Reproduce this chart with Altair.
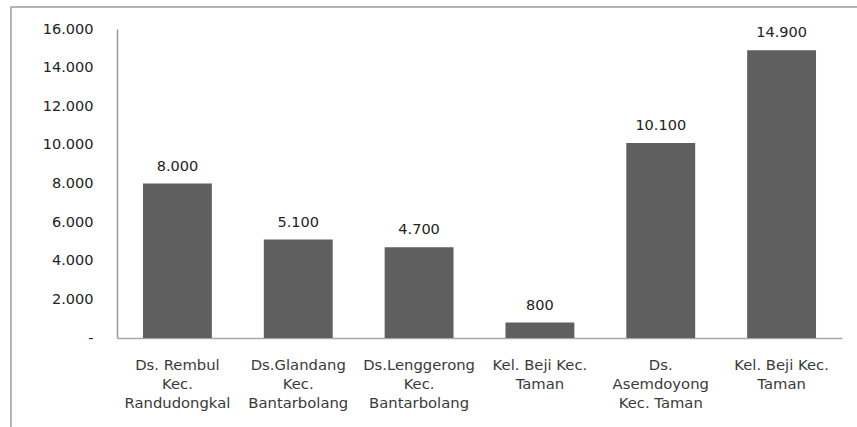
import altair as alt
import pandas as pd

# Village / sub-district names, one list entry per label line
label_lines = [
    ["Ds. Rembul", "Kec.", "Randudongkal"],
    ["Ds.Glandang", "Kec.", "Bantarbolang"],
    ["Ds.Lenggerong", "Kec.", "Bantarbolang"],
    ["Kel. Beji Kec.", "Taman"],
    ["Ds.", "Asemdoyong", "Kec. Taman"],
    ["Kel. Beji Kec.", "Taman "],
]
values = [8000, 5100, 4700, 800, 10100, 14900]
y_ticks = [0, 2000, 4000, 6000, 8000, 10000, 12000, 14000, 16000]

categories = ["\n".join(lines) for lines in label_lines]
df = pd.DataFrame({"lokasi": categories, "nilai": values})
df["teks"] = [f"{v:,}".replace(",", ".") for v in values]

FONT = "DejaVu Sans"
W, H = 725, 309

x_enc = alt.X(
    "lokasi:N",
    sort=categories,
    scale=alt.Scale(paddingInner=0.43, paddingOuter=0.215),
    axis=alt.Axis(
        title=None,
        labelAngle=0,
        labelExpr="split(datum.label, '\\n')",
        labelFont=FONT,
        labelFontSize=14.8,
        labelColor="#3a3a3a",
        labelLineHeight=19,
        labelPadding=19,
        labelBaseline="top",
        labelOverlap=False,
        ticks=False,
        tickSize=0,
        domainColor="#a8a8a8",
        domainWidth=1.5,
        labelLimit=200,
    ),
)

y_enc = alt.Y(
    "nilai:Q",
    scale=alt.Scale(domain=[0, 16000], nice=False),
    axis=alt.Axis(
        title=None,
        values=y_ticks,
        grid=False,
        ticks=False,
        tickSize=0,
        labelPadding=24,
        labelOverlap=False,
        labelFont=FONT,
        labelFontSize=14.5,
        labelColor="#222222",
        labelExpr="datum.value == 0 ? '-' : replace(format(datum.value, ','), ',', '.')",
        domainColor="#9a9a9a",
        domainWidth=1.5,
    ),
)

bars = alt.Chart(df).mark_bar(color="#5f5f5f").encode(x=x_enc, y=y_enc)

bar_labels = alt.Chart(df).mark_text(
    font=FONT, fontSize=14.5, color="#222222", baseline="middle", dy=-17
).encode(x=x_enc, y=y_enc, text="teks:N")

# Outer chart-area border (left and top edges visible)
frame = alt.Chart(pd.DataFrame({"k": [0]})).mark_rect(
    fill=None, stroke="#9c9c9c", strokeWidth=1.5, clip=False
).encode(
    x=alt.value(-106),
    x2=alt.value(W + 80),
    y=alt.value(-22),
    y2=alt.value(H + 120),
)

chart = (
    alt.layer(frame, bars, bar_labels)
    .properties(
        width=W,
        height=H,
        autosize=alt.AutoSizeParams(type="none"),
        padding={"left": 117, "top": 29, "right": 15, "bottom": 89},
        background="white",
    )
    .configure_view(stroke=None)
)

chart.save("out.html", embed_options={"renderer": "svg", "actions": False})
